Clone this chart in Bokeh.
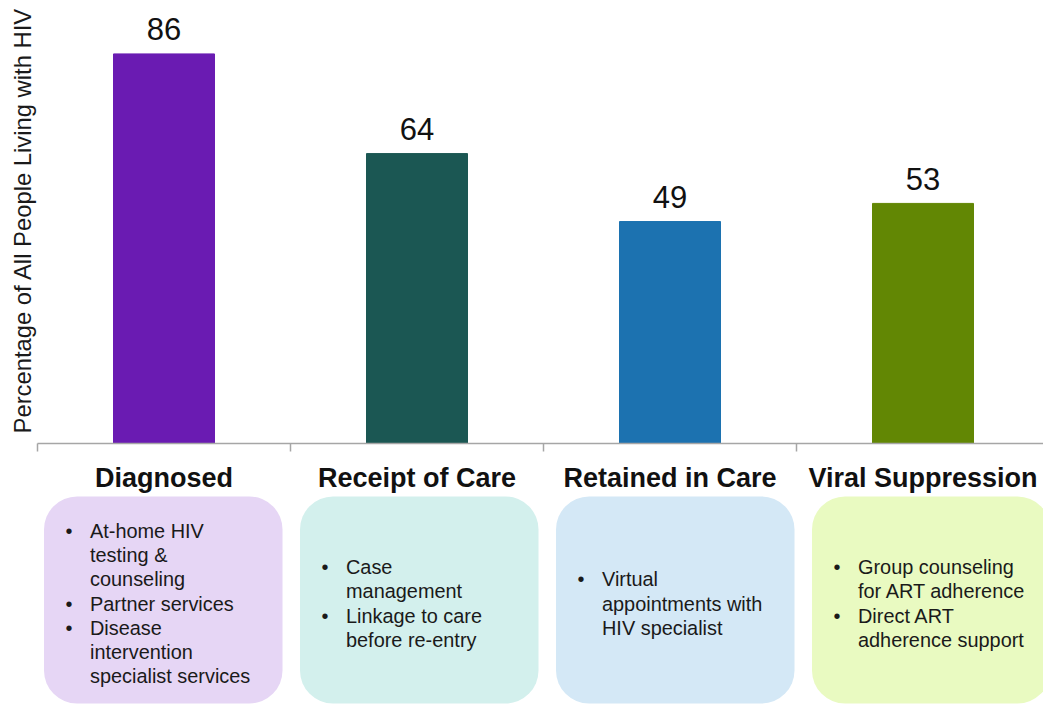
import math
from bokeh.plotting import figure
from bokeh.models import Range1d, BoxAnnotation, Label, ColumnDataSource
from bokeh.core.properties import value
from bokeh.embed import file_html
from bokeh.resources import INLINE

# ---------------- data ----------------
categories = ["Diagnosed", "Receipt of Care", "Retained in Care", "Viral Suppression"]
percentages = [86, 64, 49, 53]
bar_colors = ["#6a1bb2", "#1b5753", "#1c72b0", "#628704"]
box_colors = ["#e6d6f5", "#d3f0ed", "#d4e8f6", "#e9fac1"]
y_label = "Percentage of All People Living with HIV"
interventions = [
    [["At-home HIV", "testing &", "counseling"], ["Partner services"],
     ["Disease", "intervention", "specialist services"]],
    [["Case", "management"], ["Linkage to care", "before re-entry"]],
    [["Virtual", "appointments with", "HIV specialist"]],
    [["Group counseling", "for ART adherence"], ["Direct ART", "adherence support"]],
]

# ---------------- layout helpers (page pixels -> data) ----------------
W, H = 1043, 705
X0_PX, CAT_PX = 37.0, 253.0      # left of first category, width of category
BASE_PX, PPU = 443.0, 4.53       # baseline (value 0), pixels per percentage point


def dx(px):
    return (px - X0_PX) / CAT_PX


def dy(py):
    return (BASE_PX - py) / PPU


FONT_NAME = "Liberation Sans"
FONT = value(FONT_NAME)

p = figure(width=W, height=H,
           x_range=Range1d(dx(0), dx(W)), y_range=Range1d(dy(H), dy(0)),
           x_axis_type=None, y_axis_type=None,
           output_backend="svg", toolbar_location=None, min_border=0)
p.grid.visible = False
p.outline_line_color = None
p.background_fill_color = "white"
p.border_fill_color = "white"

n = len(categories)
xc = [i + 0.5 for i in range(n)]

# bars
src = ColumnDataSource(dict(x=xc, top=percentages, color=bar_colors,
                            lab=[str(v) for v in percentages],
                            laby=[v + 24.5 / PPU for v in percentages],
                            cat=categories))
p.vbar(x="x", top="top", bottom=0, width=101 / CAT_PX, color="color", source=src)

# value labels
p.text(x="x", y="laby", text="lab", source=src, text_font=FONT,
       text_font_size="31px", text_align="center", text_baseline="middle",
       text_color="#111111")

# axis line and ticks between categories
p.segment(x0=[0], y0=[0], x1=[dx(W)], y1=[0], line_color="#a6a6a6", line_width=1.5)
p.segment(x0=list(range(n)), y0=[0] * n, x1=list(range(n)), y1=[-8 / PPU] * n,
          line_color="#a6a6a6", line_width=1.5)

# category labels
p.text(x="x", y=dy(477.5), text="cat", source=src, text_font=FONT,
       text_font_size="27px", text_font_style="bold", text_align="center",
       text_baseline="middle", text_color="#111111")

# y label
p.add_layout(Label(x=dx(21.7), y=dy(220), text=y_label, angle=math.pi / 2,
                   text_font=FONT_NAME, text_font_size="23.8px", text_align="center",
                   text_baseline="middle", text_color="#1a1a1a"))

# intervention boxes
BOX_X0, BOX_PITCH, BOX_W = 43.5, 256.0, 238.5
BOX_TOP, BOX_BOT = 496.0, 703.0
LINE_H, TEXT_MID = 24.2, 603.0
tx, ty, tt, bx, by = [], [], [], [], []
for i, items in enumerate(interventions):
    left = BOX_X0 + i * BOX_PITCH
    p.add_layout(BoxAnnotation(left=dx(left), right=dx(left + BOX_W),
                               top=dy(BOX_TOP), bottom=dy(BOX_BOT),
                               fill_color=box_colors[i], fill_alpha=1.0,
                               line_color=None, border_radius=33, level="underlay"))
    lines = [(j == 0, ln) for item in items for j, ln in enumerate(item)]
    m = len(lines)
    for k, (first, ln) in enumerate(lines):
        yy = TEXT_MID + (k - (m - 1) / 2) * LINE_H
        tx.append(dx(left + 46))
        ty.append(dy(yy))
        tt.append(ln)
        if first:
            bx.append(dx(left + 25))
            by.append(dy(yy))

p.text(x=tx, y=ty, text=tt, text_font=FONT, text_font_size="19.9px",
       text_align="left", text_baseline="middle", text_color="#1a1a1a")
p.text(x=bx, y=by, text=["\u2022"] * len(bx), text_font=FONT, text_font_size="19.9px",
       text_align="center", text_baseline="middle", text_color="#1a1a1a")

open("out.html", "w").write(file_html(p, INLINE))
